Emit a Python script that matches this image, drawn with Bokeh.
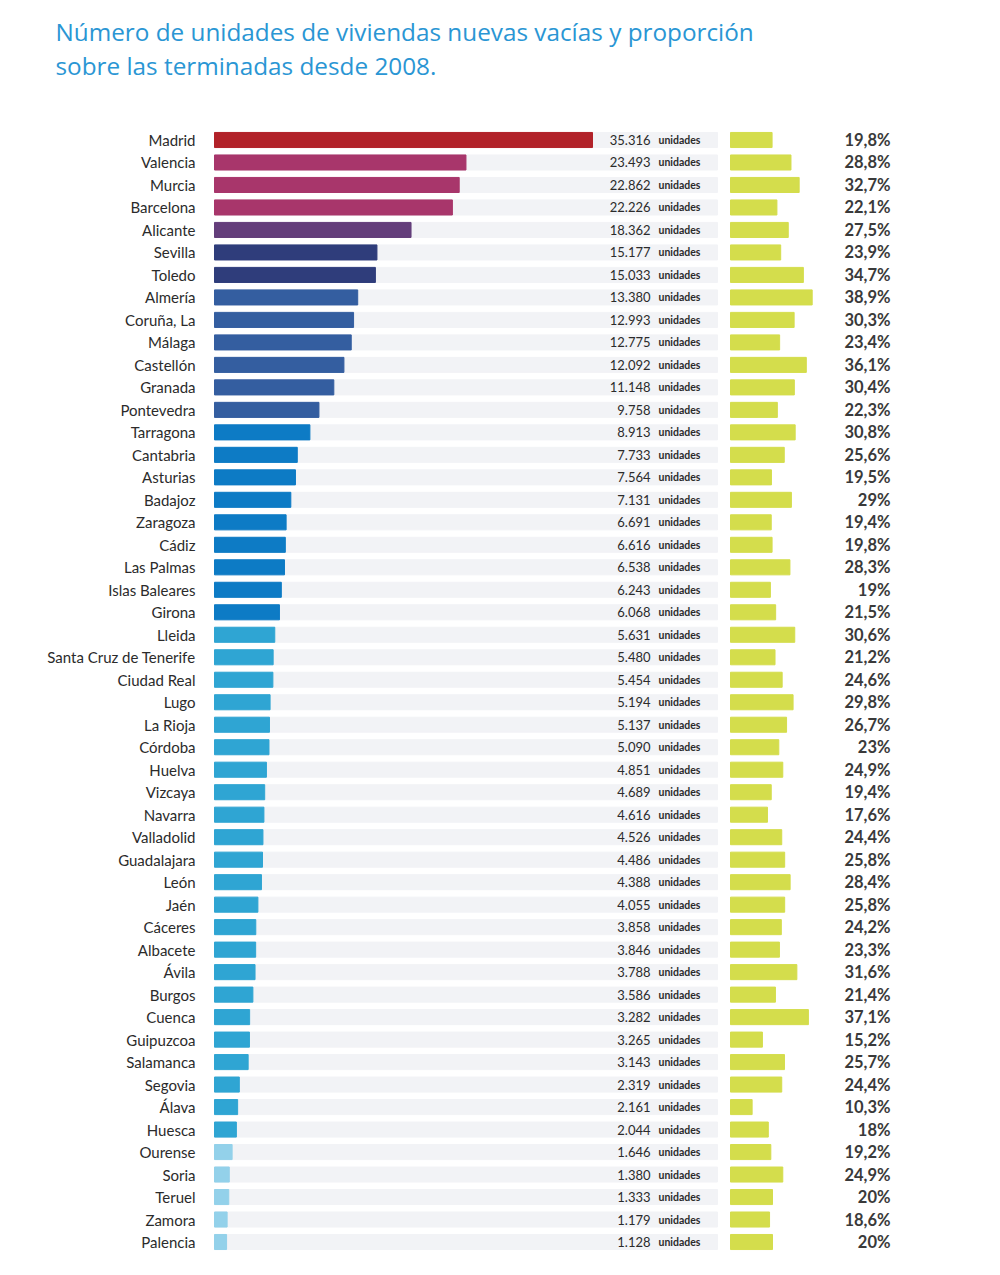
from bokeh.plotting import figure
from bokeh.models import Range1d, Label, ColumnDataSource
from bokeh.core.properties import value
from bokeh.embed import file_html
from bokeh.resources import INLINE

provinces = ["Madrid", "Valencia", "Murcia", "Barcelona", "Alicante", "Sevilla", "Toledo",
             "Almería", "Coruña, La", "Málaga", "Castellón", "Granada", "Pontevedra",
             "Tarragona", "Cantabria", "Asturias", "Badajoz", "Zaragoza", "Cádiz",
             "Las Palmas", "Islas Baleares", "Girona", "Lleida", "Santa Cruz de Tenerife",
             "Ciudad Real", "Lugo", "La Rioja", "Córdoba", "Huelva", "Vizcaya", "Navarra",
             "Valladolid", "Guadalajara", "León", "Jaén", "Cáceres", "Albacete", "Ávila",
             "Burgos", "Cuenca", "Guipuzcoa", "Salamanca", "Segovia", "Álava", "Huesca",
             "Ourense", "Soria", "Teruel", "Zamora", "Palencia"]
units = [35316, 23493, 22862, 22226, 18362, 15177, 15033,
         13380, 12993, 12775, 12092, 11148, 9758,
         8913, 7733, 7564, 7131, 6691, 6616,
         6538, 6243, 6068, 5631, 5480,
         5454, 5194, 5137, 5090, 4851, 4689, 4616,
         4526, 4486, 4388, 4055, 3858, 3846, 3788,
         3586, 3282, 3265, 3143, 2319, 2161, 2044,
         1646, 1380, 1333, 1179, 1128]
share_pct = [19.8, 28.8, 32.7, 22.1, 27.5, 23.9, 34.7,
             38.9, 30.3, 23.4, 36.1, 30.4, 22.3,
             30.8, 25.6, 19.5, 29.0, 19.4, 19.8,
             28.3, 19.0, 21.5, 30.6, 21.2,
             24.6, 29.8, 26.7, 23.0, 24.9, 19.4, 17.6,
             24.4, 25.8, 28.4, 25.8, 24.2, 23.3, 31.6,
             21.4, 37.1, 15.2, 25.7, 24.4, 10.3, 18.0,
             19.2, 24.9, 20.0, 18.6, 20.0]
unit_word = "unidades"
title_lines = ["Número de unidades de viviendas nuevas vacías y proporción",
               "sobre las terminadas desde 2008."]

# colour groups (style): number of rows per group, and group colour
group_sizes = [1, 3, 1, 2, 6, 9, 23, 5]
group_colors = ["#B22229", "#A8366B", "#643E7B", "#2F3D7B", "#345EA0", "#0D7BC5", "#2FA5D3", "#93D1EA"]

colors = []
for n, c in zip(group_sizes, group_colors):
    colors += [c] * n

def fmt_units(v):
    return f"{v:,}".replace(",", ".")

def fmt_pct(v):
    if abs(v - round(v)) < 1e-9:
        return f"{int(round(v))}%"
    return f"{v:.1f}".replace(".", ",") + "%"

W, H = 984, 1255
n = len(provinces)
rows = list(range(n))

# layout (pixels in frame)
bar_x0 = 214
px_per_unit = 378 / 35316
green_x0 = 730
px_per_pct = 2.1
row0_y = 139.5
row_pitch = 22.49
track_end_px = 717

x_start = -bar_x0 / px_per_unit
x_end = (W - bar_x0) / px_per_unit
y_top = -row0_y / row_pitch
y_bottom = (n - 1) + (H - (row0_y + (n - 1) * row_pitch)) / row_pitch

p = figure(width=W, height=H, output_backend="svg", toolbar_location=None,
           x_range=Range1d(x_start, x_end), y_range=Range1d(y_bottom, y_top),
           x_axis_type=None, y_axis_type=None, min_border=0)
p.grid.visible = False
p.outline_line_color = None
p.background_fill_color = "white"
p.border_fill_color = "white"

p.extra_x_ranges = {
    "pct": Range1d(-green_x0 / px_per_pct, (W - green_x0) / px_per_pct),
    "px": Range1d(0, W),
}

src = ColumnDataSource(dict(
    row=rows, name=provinces, units=units, pct=share_pct, color=colors,
    units_lbl=[fmt_units(v) for v in units],
    pct_lbl=[fmt_pct(v) for v in share_pct],
    word=[unit_word] * n,
    track=[(track_end_px - bar_x0) / px_per_unit] * n,
))

bh = 0.67
p.hbar(y="row", left=0, right="track", height=bh, color="#F2F3F6", source=src)
p.hbar(y="row", left=0, right="units", height=bh, color="color", source=src)
p.hbar(y="row", left=0, right="pct", height=bh, color="#D4DD4C", source=src, x_range_name="pct")

font = value("Lato")
p.text(x=195, y="row", text="name", source=src, x_range_name="px",
       text_align="right", text_baseline="middle", text_font=font,
       text_font_size="15px", text_color="#2b2b2b")
p.text(x=650, y="row", text="units_lbl", source=src, x_range_name="px",
       text_align="right", text_baseline="middle", text_font=font,
       text_font_size="13px", text_color="#2b2b2b")
p.text(x=658, y="row", text="word", source=src, x_range_name="px",
       text_align="left", text_baseline="middle", text_font=font,
       text_font_size="10.5px", text_font_style="bold", text_color="#2b2b2b")
p.text(x=890, y="row", text="pct_lbl", source=src, x_range_name="px",
       text_align="right", text_baseline="middle", text_font=font,
       text_font_size="16.5px", text_font_style="bold", text_color="#3a3a3a")

for i, t in enumerate(title_lines):
    p.add_layout(Label(x=55, y=H - 31 - 34 * i, x_units="screen", y_units="screen",
                       text=t, text_font="Open Sans", text_font_size="24.3px",
                       text_color="#2A96D4", text_baseline="alphabetic"))

open("out.html", "w").write(file_html(p, INLINE))
